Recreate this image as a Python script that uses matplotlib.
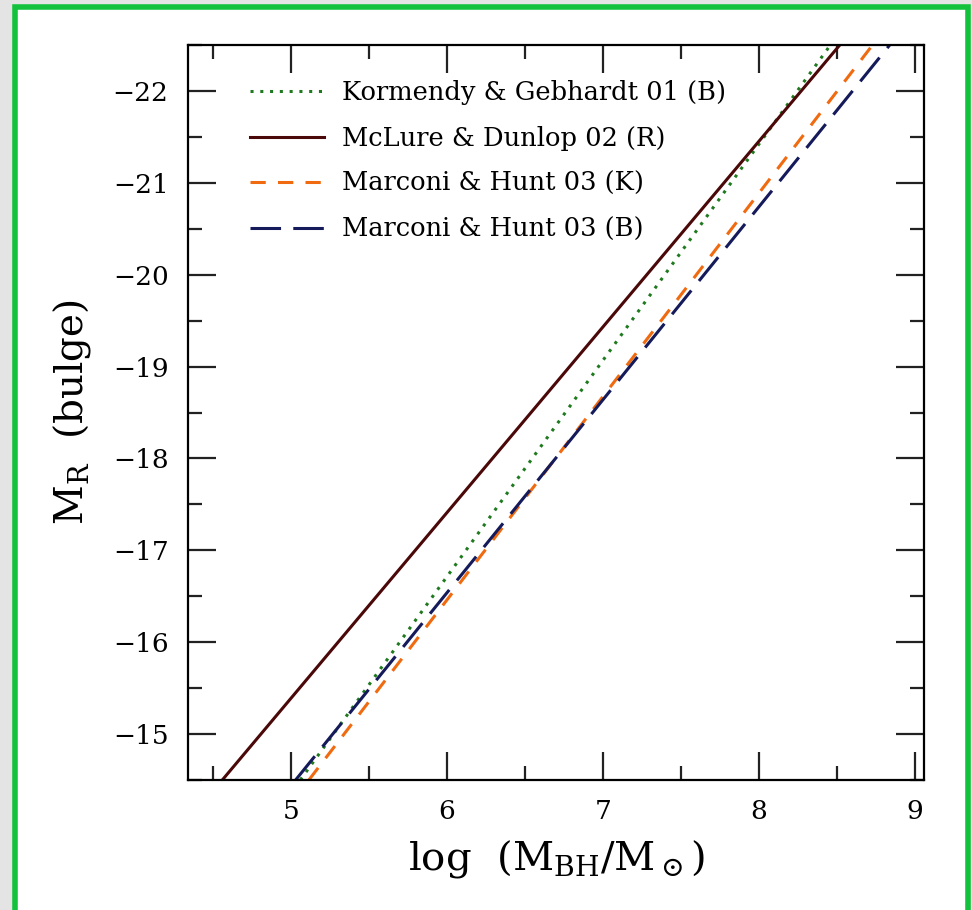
import matplotlib
matplotlib.use('Agg')
import matplotlib.pyplot as plt
from matplotlib.patches import Rectangle
from matplotlib.ticker import MultipleLocator
import numpy as np

# end points of each relation: (log M_BH at M_R=-14.5, log M_BH at M_R=-22.5)
labels = ['Kormendy & Gebhardt 01 (B)', 'McLure & Dunlop 02 (R)',
          'Marconi & Hunt 03 (K)', 'Marconi & Hunt 03 (B)']
logm_faint = [5.06, 4.56, 5.115, 5.03]
logm_bright = [8.46, 8.52, 8.73, 8.84]
mag_faint = -14.5
mag_bright = -22.5

colors = ['#1f7a1f', '#4a0808', '#f06a10', '#141a5a']
styles = [(0, (1, 2.2)), '-', (0, (5, 4)), (0, (10, 4))]

plt.rcParams['font.family'] = 'DejaVu Serif'
plt.rcParams['mathtext.fontset'] = 'dejavuserif'

fig = plt.figure(figsize=(9.72, 9.10), dpi=100, facecolor='#e4e4e4')
# white panel with green frame
W, H = 972.0, 910.0
fig.patches.append(Rectangle((14.5 / W, -0.05), (967.5 - 14.5) / W, (H - 7.5) / H + 0.05,
                             transform=fig.transFigure, facecolor='white',
                             edgecolor='#12c23c', linewidth=4.0, zorder=-10))

ax = fig.add_axes([188 / W, 1 - 780 / H, (924 - 188) / W, (780 - 45) / H])
ax.set_facecolor('none')

for i in range(len(labels)):
    x = np.array([logm_faint[i], logm_bright[i]])
    y = np.array([mag_faint, mag_bright])
    ax.plot(x, y, color=colors[i], linestyle=styles[i], lw=2.2, label=labels[i])

ax.set_xlim(4.34, 9.06)
ax.set_ylim(-14.5, -22.5)
ax.xaxis.set_major_locator(MultipleLocator(1))
ax.xaxis.set_minor_locator(MultipleLocator(0.5))
ax.yaxis.set_major_locator(MultipleLocator(1))
ax.yaxis.set_minor_locator(MultipleLocator(0.5))
ax.tick_params(which='both', direction='in', top=True, right=True, width=1.6, color='#222222')
ax.tick_params(which='major', length=20, labelsize=19, pad=14)
ax.tick_params(which='minor', length=10)
ax.set_yticks(range(-22, -14))
ax.set_yticklabels(['\u221222', '\u221221', '\u221220', '\u221219', '\u221218',
                    '\u221217', '\u221216', '\u221215'])
for s in ax.spines.values():
    s.set_linewidth(1.6)

ax.set_xlabel(r'log  (M$_{\rm BH}$/M$_\odot$)', fontsize=29, labelpad=10)
ax.set_ylabel(r'M$_{\rm R}$  (bulge)', fontsize=28, labelpad=14)

leg = ax.legend(loc='upper left', frameon=False, fontsize=18.5, handlelength=2.85,
                handletextpad=0.7, labelspacing=0.8, borderaxespad=0.0,
                bbox_to_anchor=(0.0707, 0.966))

plt.savefig('out.png', dpi=100, facecolor=fig.get_facecolor())
